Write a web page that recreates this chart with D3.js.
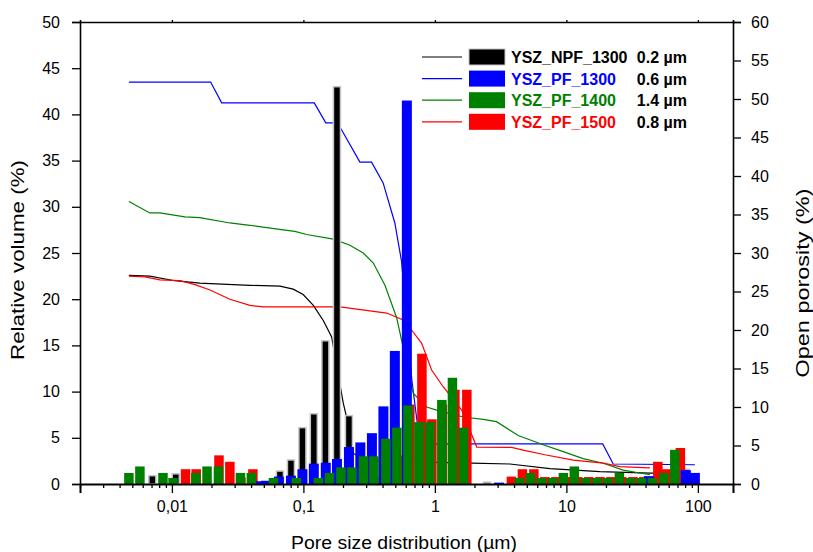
<!DOCTYPE html>
<html>
<head>
<meta charset="utf-8">
<script src="https://cdn.jsdelivr.net/npm/d3@7"></script>
<style>
body { margin: 0; background: #fff; }
svg text { font-family: "Liberation Sans", Arial, sans-serif; }
</style>
</head>
<body>
<div id="chart"></div>
<script>

// histogram bars: pore diameter (µm) / relative volume (%)
var npfD = [0.0071, 0.0107, 0.0663, 0.0804, 0.0983, 0.120, 0.147, 0.180, 0.222, 2.49, 81.0];
var npfV = [0.9, 1.1, 1.4, 2.6, 6.1, 7.6, 15.5, 43.0, 7.4, 0.2, 1.6];

var pf1300D = [0.0459, 0.0519, 0.0651, 0.0804, 0.0983, 0.120, 0.148, 0.180, 0.222, 0.271, 0.332, 0.406, 0.496, 0.612, 3.07, 42.4, 81.0, 94.9];
var pf1300V = [0.3, 0.35, 0.8, 0.9, 1.6, 2.2, 2.3, 2.7, 4.0, 4.5, 5.5, 8.4, 14.4, 41.5, 0.15, 0.85, 1.5, 1.2];

var pf1400D = [0.00471, 0.00571, 0.00855, 0.0102, 0.0152, 0.0185, 0.0226, 0.0332, 0.0402, 0.0592,
    0.0885, 0.130, 0.158, 0.193, 0.234, 0.286, 0.344, 0.424, 0.514, 0.624,
    0.756, 0.916, 1.13, 1.36, 1.65, 4.39, 5.33, 6.45, 7.83, 9.49,
    11.5, 14.1, 17.1, 20.7, 25.3, 30.7, 37.2, 45.1, 55.1, 66.8];
var pf1400V = [1.2, 1.9, 1.2, 0.65, 1.2, 1.9, 1.9, 1.2, 1.2, 0.65,
    0.65, 0.65, 1.2, 1.8, 1.8, 3.0, 3.0, 4.9, 6.1, 8.5,
    6.7, 6.7, 9.1, 11.5, 6.1, 0.65, 1.2, 0.65, 0.65, 1.2,
    1.9, 0.65, 0.65, 0.65, 1.2, 0.65, 0.65, 0.65, 1.2, 3.7];

var pf1500D = [0.0127, 0.0153, 0.0228, 0.0276, 0.0335, 0.0413, 0.207, 0.251, 0.304, 0.375,
    0.455, 0.532, 0.645, 0.797, 0.949, 1.14, 1.42, 1.75, 3.82, 4.63,
    5.66, 6.86, 8.32, 10.1, 12.2, 14.8, 18.0, 21.8, 26.4, 32.1,
    38.8, 49.6, 58.1, 73.6];
var pf1500V = [1.6, 1.6, 3.1, 2.4, 0.7, 1.6, 0.7, 0.7, 0.7, 0.75,
    2.4, 3.1, 8.6, 14.1, 7.0, 8.6, 10.2, 10.2, 0.8, 1.6,
    1.6, 0.75, 0.75, 0.75, 0.75, 0.75, 0.75, 0.75, 0.75, 0.75,
    0.75, 2.4, 1.6, 3.9];

// cumulative curves: pore diameter (µm) / open porosity (%)
var npfLineD = [0.00471, 0.0068, 0.0105, 0.0163, 0.0392, 0.0663, 0.0836, 0.0996, 0.119, 0.142, 0.164, 0.201, 0.213, 0.239, 0.294, 1.90, 3.72, 7.50, 18.0, 43.2, 76.9];
var npfLineP = [27.1, 27.0, 26.4, 26.1, 25.8, 25.7, 25.3, 24.6, 23.2, 21.2, 19.1, 10.5, 8.7, 4.0, 3.0, 2.7, 2.6, 2.0, 1.6, 1.4, 1.5];

var pf1300LineD = [0.00471, 0.0197, 0.0239, 0.121, 0.148, 0.180, 0.195, 0.269, 0.330, 0.404, 0.496, 0.558, 0.668, 0.769, 18.9, 22.7, 94.9];
var pf1300LineP = [52.2, 52.2, 49.5, 49.5, 46.9, 46.9, 46.0, 41.8, 41.8, 39.1, 33.9, 28.9, 13.5, 5.2, 5.2, 2.6, 2.5];

var pf1400LineD = [0.00471, 0.0068, 0.00811, 0.01256, 0.0163, 0.0276, 0.0392, 0.0702, 0.0861, 0.106,
    0.169, 0.226, 0.285, 0.340, 0.417, 0.512, 0.558, 0.645, 0.684, 0.865,
    1.03, 1.64, 2.33, 2.94, 4.30, 6.66, 9.46, 13.4, 19.1, 27.0, 43.2];
var pf1400LineP = [36.7, 35.2, 35.2, 34.7, 34.6, 33.9, 33.6, 33.0, 32.8, 32.4,
    31.8, 31.0, 30.0, 28.7, 25.8, 21.6, 18.7, 13.5, 11.8, 10.0,
    9.6, 8.7, 8.4, 8.1, 6.3, 5.1, 4.2, 3.3, 2.7, 1.8, 1.2];

var pf1500LineD = [0.00471, 0.00623, 0.00811, 0.0115, 0.0150, 0.0195, 0.0276, 0.0392, 0.0495, 0.190,
    0.430, 0.574, 0.665, 0.792, 0.944, 1.16, 1.60, 2.08, 3.83, 4.69,
    6.86, 11.3, 19.1, 25.5, 43.2];
var pf1500LineP = [27.0, 26.9, 26.5, 26.4, 25.9, 25.2, 24.0, 23.2, 23.0, 23.0,
    22.2, 21.3, 20.0, 18.3, 14.8, 12.6, 9.6, 4.8, 4.75, 4.4,
    3.8, 3.1, 2.7, 2.25, 2.1];

var legendNames = ["YSZ_NPF_1300", "YSZ_PF_1300", "YSZ_PF_1400", "YSZ_PF_1500"];
var legendSizes = ["0.2 µm", "0.6 µm", "1.4 µm", "0.8 µm"];
var xTicks = [0.01, 0.1, 1, 10, 100];

var colors = ["#000000", "#0000ff", "#008000", "#ff0000"];

var svg = d3.select("#chart").append("svg")
    .attr("width", 813)
    .attr("height", 552);

var x = d3.scaleLog().domain([0.002, 185]).range([80, 733]);
var yL = d3.scaleLinear().domain([0, 50]).range([484, 22]);
var yR = d3.scaleLinear().domain([0, 60]).range([484, 22]);

function zip(a, b) {
    return a.map(function (d, i) { return [d, b[i]]; });
}

// porosity curves (behind the bars)
var lines = [
    { pts: zip(npfLineD, npfLineP), color: colors[0] },
    { pts: zip(pf1300LineD, pf1300LineP), color: colors[1] },
    { pts: zip(pf1400LineD, pf1400LineP), color: colors[2] },
    { pts: zip(pf1500LineD, pf1500LineP), color: colors[3] }
];

var line = d3.line()
    .x(function (d) { return x(d[0]); })
    .y(function (d) { return yR(d[1]); });

svg.append("g").selectAll("path")
    .data(lines)
    .enter().append("path")
    .attr("d", function (d) { return line(d.pts); })
    .attr("fill", "none")
    .attr("stroke", function (d) { return d.color; })
    .attr("stroke-width", 1.2);

// bars, drawn in this order: black, red, blue, green
var bars = [
    { pts: zip(npfD, npfV), color: colors[0], w: 7, stroke: "#c4c4c4" },
    { pts: zip(pf1500D, pf1500V), color: colors[3], w: 9.5, stroke: "none" },
    { pts: zip(pf1300D, pf1300V), color: colors[1], w: 10, stroke: "none" },
    { pts: zip(pf1400D, pf1400V), color: colors[2], w: 9.5, stroke: "none" }
];

bars.forEach(function (s) {
    svg.append("g").selectAll("rect")
        .data(s.pts)
        .enter().append("rect")
        .attr("x", function (d) { return x(d[0]) - s.w / 2; })
        .attr("y", function (d) { return yL(d[1]); })
        .attr("width", s.w)
        .attr("height", function (d) { return yL(0) - yL(d[1]); })
        .attr("fill", s.color)
        .attr("stroke", s.stroke)
        .attr("stroke-width", 1.5);
});

// axes
var minor = [];
for (var e = -3; e <= 2; e++) {
    for (var m = 2; m <= 9; m++) {
        var v = m * Math.pow(10, e);
        if (v >= 0.002 && v <= 185) minor.push(v);
    }
}

svg.append("g")
    .attr("transform", "translate(0,484)")
    .call(d3.axisBottom(x).tickValues(minor).tickSize(4).tickFormat(""))
    .call(function (g) { g.select(".domain").remove(); });

var xAxis = svg.append("g")
    .attr("transform", "translate(0,484)")
    .call(d3.axisBottom(x).tickValues(xTicks).tickSize(9).tickPadding(8)
        .tickFormat(function (d) { return String(d).replace(".", ","); }));

svg.append("g")
    .attr("transform", "translate(0,22)")
    .call(d3.axisTop(x).tickValues(xTicks).tickSize(2).tickFormat(""));

var leftAxis = svg.append("g")
    .attr("transform", "translate(80,0)")
    .call(d3.axisLeft(yL).tickValues(d3.range(0, 51, 5)).tickSize(8).tickPadding(12));

var rightAxis = svg.append("g")
    .attr("transform", "translate(733,0)")
    .call(d3.axisRight(yR).tickValues(d3.range(0, 61, 5)).tickSize(8).tickPadding(10));

svg.selectAll(".domain").attr("stroke-width", 1.6);
svg.selectAll(".tick line").attr("stroke-width", 1.3);
svg.selectAll(".tick text").style("font-size", "16px").attr("fill", "#000");
xAxis.select(".domain").attr("stroke-width", 2);

// axis titles
svg.append("text")
    .attr("x", 404).attr("y", 549)
    .attr("text-anchor", "middle")
    .attr("textLength", 226).attr("lengthAdjust", "spacingAndGlyphs")
    .style("font-size", "18px")
    .text("Pore size distribution (µm)");

svg.append("text")
    .attr("transform", "translate(24,260) rotate(-90)")
    .attr("text-anchor", "middle")
    .attr("textLength", 200).attr("lengthAdjust", "spacingAndGlyphs")
    .style("font-size", "18px")
    .text("Relative volume (%)");

svg.append("text")
    .attr("transform", "translate(809,283) rotate(-90)")
    .attr("text-anchor", "middle")
    .attr("textLength", 189).attr("lengthAdjust", "spacingAndGlyphs")
    .style("font-size", "18px")
    .text("Open porosity (%)");

// legend
var legend = svg.append("g").selectAll("g")
    .data(legendNames)
    .enter().append("g")
    .attr("transform", function (d, i) { return "translate(0," + (57 + i * 21.6) + ")"; });

legend.append("line")
    .attr("x1", 422).attr("x2", 462)
    .attr("stroke", function (d, i) { return colors[i]; })
    .attr("stroke-width", 1.2);

legend.append("rect")
    .attr("x", 469).attr("y", -8)
    .attr("width", 36).attr("height", 16)
    .attr("fill", function (d, i) { return colors[i]; })
    .attr("stroke", function (d, i) { return i === 0 ? "#c4c4c4" : "none"; });

legend.append("text")
    .attr("x", 511).attr("y", 6)
    .style("font-size", "16px").style("font-weight", "bold")
    .attr("fill", function (d, i) { return colors[i]; })
    .text(function (d) { return d; });

legend.append("text")
    .attr("x", 687).attr("y", 6)
    .attr("text-anchor", "end")
    .style("font-size", "16px").style("font-weight", "bold")
    .text(function (d, i) { return legendSizes[i]; });

</script>
</body>
</html>
